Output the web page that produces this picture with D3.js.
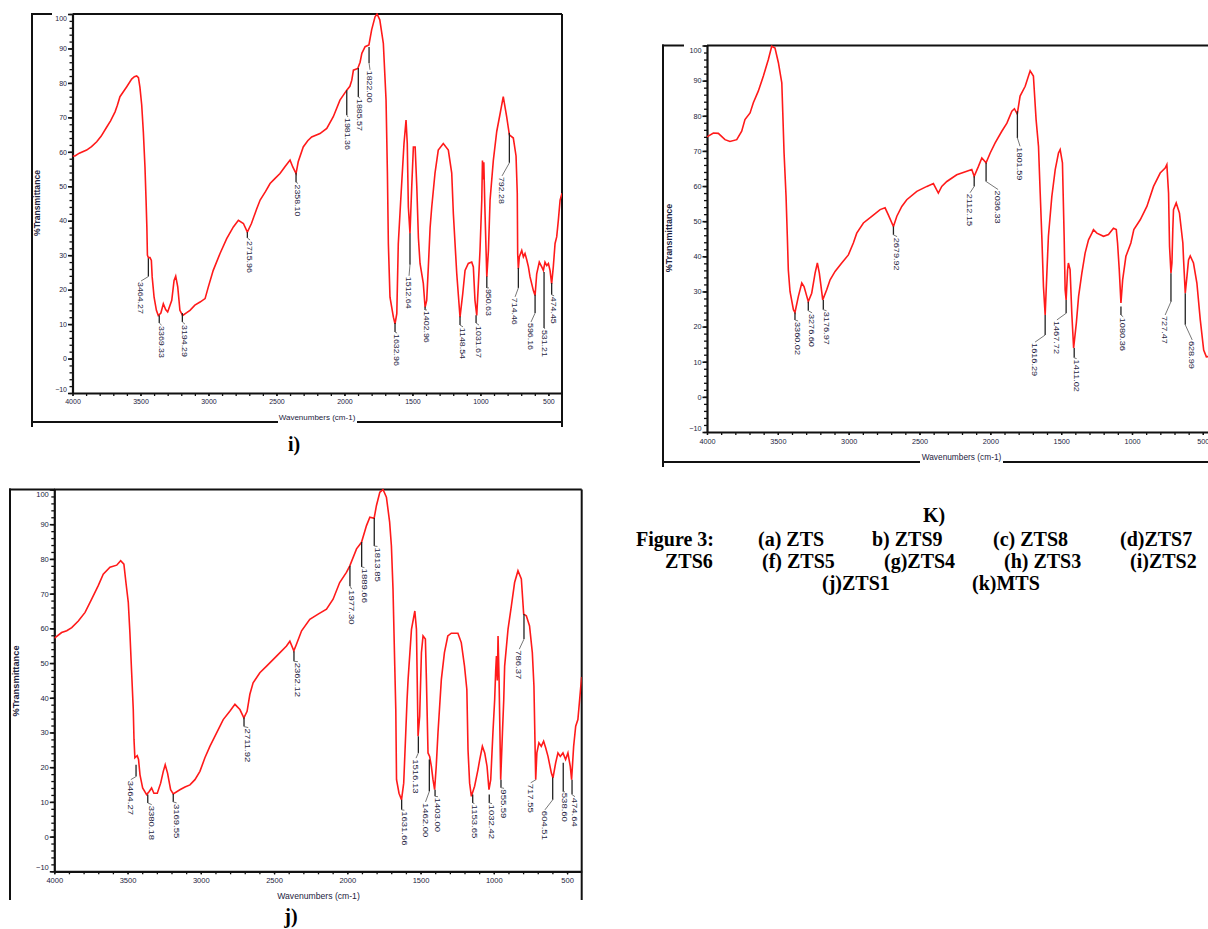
<!DOCTYPE html>
<html>
<head>
<meta charset="utf-8">
<script src="https://cdn.jsdelivr.net/npm/d3@7"></script>
<style>
  body { margin: 0; background: #fff; overflow: hidden; }
  svg text { font-family: "Liberation Sans", Arial, sans-serif; }
  .cap { font-family: "Liberation Serif", "Times New Roman", serif !important; font-weight: bold; white-space: pre; }
</style>
</head>
<body>
<svg id="fig" width="1208" height="929"></svg>
<script>
// ---- data ----
var xTicks = [4000, 3500, 3000, 2500, 2000, 1500, 1000, 500];
var yTicks = [-10, 0, 10, 20, 30, 40, 50, 60, 70, 80, 90, 100];

// (i) ZTS2 : [wavenumber, %T]
var spectrumI = [[4000,58.8],[3982,58.8],[3950,59.6],[3896,60.5],[3860,61.5],[3822,62.9],[3790,64.5],[3748,67.2],[3720,69],[3687,71.6],[3670,73.5],[3651,76],[3625,77.5],[3601,78.9],[3565,81.1],[3545,81.8],[3528,82],[3515,81.5],[3504,78.7],[3491,73.6],[3479,65.8],[3467,55.6],[3459,46],[3453,38],[3449,30],[3442,29.3],[3430,29.3],[3420,28.5],[3414,23.7],[3400,17.8],[3383,14],[3369,12.5],[3350,13.2],[3332,15.9],[3315,14.2],[3300,13.5],[3270,16.9],[3253,22.7],[3241,23.9],[3226,20.8],[3210,14],[3190,12.5],[3160,13.3],[3136,14],[3100,15.5],[3062,16.4],[3025,17.4],[3001,20.8],[2965,25.6],[2915,30.5],[2866,34.8],[2817,38.2],[2780,40.1],[2743,39.2],[2714,36.7],[2684,39.2],[2645,43.5],[2620,46],[2580,48.5],[2547,50.8],[2510,52.3],[2474,53.7],[2435,55.8],[2400,57.6],[2380,55.6],[2356,53.7],[2340,57.1],[2303,61.4],[2270,63.2],[2241,64.3],[2180,65.3],[2130,66.8],[2082,70.2],[2033,75],[1983,77.9],[1960,79],[1946,80.8],[1934,83.7],[1902,84.2],[1885,86],[1872,88.6],[1848,90.5],[1820,91],[1800,95.4],[1775,99.2],[1760,100],[1740,98.3],[1714,91.5],[1694,75],[1684,53.7],[1677,33.3],[1665,17.8],[1640,12],[1628,10.1],[1615,13],[1604,33.3],[1586,46],[1562,62.4],[1547,69.2],[1538,62.4],[1530,44],[1518,36.3],[1505,50],[1493,61.4],[1480,61.4],[1468,50],[1456,35],[1444,27.6],[1420,21.8],[1407,14.9],[1395,16.9],[1383,26.6],[1370,38],[1358,44],[1334,53.8],[1310,60.5],[1273,62.4],[1236,60.5],[1211,53.8],[1199,42],[1174,24.6],[1150,12],[1130,18.8],[1113,25.6],[1089,27.6],[1064,28],[1052,26.6],[1040,16.9],[1027,12.5],[1015,21.7],[1003,31.4],[990,46],[985,57.5],[980,52],[975,57],[968,45],[953,23.7],[941,31.4],[929,46],[905,57.5],[880,65.9],[856,70.9],[832,76],[807,70.2],[787,64.9],[758,64],[738,58.8],[729,48],[726,30.5],[721,26.1],[714,29.5],[696,31.4],[684,29.5],[672,30.5],[659,28.6],[647,26.6],[635,23.7],[611,19.8],[598,18.3],[586,24.6],[567,28],[549,26.6],[537,25.6],[525,28],[512,27],[500,27.6],[488,25.6],[476,21.7],[464,26.6],[451,33.4],[439,35.3],[427,40.1],[414,46],[400,48]];

// (k) MTS
var spectrumK = [[4000,74],[3955,75.1],[3920,75],[3873,73.2],[3838,72.7],[3790,73.2],[3755,75.6],[3732,78.9],[3696,80.8],[3673,83.7],[3638,87],[3602,91.3],[3567,96],[3543,99.8],[3520,99.3],[3496,95.1],[3472,89.4],[3465,80.8],[3456,69.4],[3442,57],[3433,45.7],[3426,36.1],[3414,30],[3390,24.8],[3379,24],[3355,28.6],[3331,32.4],[3315,31.4],[3285,27.1],[3261,29.5],[3237,35.2],[3221,38.1],[3207,35.2],[3183,27.6],[3155,30.5],[3131,33.3],[3096,35.7],[3049,38.1],[3002,40.4],[2967,43.8],[2943,46.6],[2896,49.5],[2837,51.4],[2778,53.3],[2743,53.8],[2720,51.8],[2684,48.5],[2660,51.4],[2625,54.2],[2590,56.1],[2519,58.5],[2448,59.9],[2402,60.7],[2367,58],[2343,59.9],[2307,61.3],[2237,63.2],[2166,64.2],[2131,64.7],[2114,62.8],[2084,65.6],[2060,68],[2030,66.6],[2001,69.4],[1966,72.3],[1919,75.6],[1883,77.9],[1848,81.3],[1830,82],[1810,80.5],[1790,85.6],[1754,88.4],[1719,92.8],[1696,91.3],[1677,78.9],[1660,71.3],[1648,58],[1636,45],[1625,31.4],[1613,23.3],[1601,35.2],[1590,45.7],[1566,57],[1542,64.7],[1519,69.4],[1507,70.4],[1491,66.6],[1479,45.7],[1472,30.5],[1465,27.6],[1455,36],[1449,38.1],[1437,36.2],[1425,23.8],[1412,13.9],[1393,21],[1377,28.6],[1354,35.2],[1331,40.9],[1307,44.7],[1283,46.6],[1272,47.6],[1248,46.6],[1201,45.7],[1166,46.2],[1131,48],[1111,47.6],[1102,43.8],[1090,36.2],[1078,26.7],[1066,33.3],[1043,40],[1008,43.8],[987,47.6],[942,50.4],[895,54.2],[848,59.9],[801,63.7],[766,65.1],[754,66.1],[742,58],[735,42.8],[725,35.2],[718,38.1],[712,47.6],[707,53.3],[688,55.2],[665,52.3],[641,43.8],[636,39],[624,29.5],[612,34.3],[601,39],[589,40.1],[566,38.1],[542,32.4],[518,21.9],[494,13.3],[475,11.4],[450,11.5],[420,13],[400,15]];

// (j) ZTS1
var spectrumJ = [[4000,57.3],[3995,57.3],[3950,58.8],[3915,59.3],[3881,60.2],[3836,62.1],[3790,64.6],[3745,68.4],[3700,72.3],[3666,75.6],[3620,77.6],[3574,78.2],[3547,79.5],[3525,78.5],[3511,73.2],[3495,67.5],[3484,58.8],[3472,47.2],[3461,36.6],[3456,28],[3450,22.7],[3434,23.3],[3425,22.2],[3415,17.8],[3397,14],[3370,12.1],[3352,13],[3336,14],[3320,12.5],[3297,12.5],[3274,15.4],[3256,18.8],[3243,20.7],[3227,18.3],[3206,13.5],[3188,12.3],[3143,13.5],[3108,14.3],[3074,14.9],[3040,16.4],[3006,18.8],[2972,22.7],[2938,26],[2892,29.9],[2847,33.7],[2802,36.1],[2767,38.1],[2733,36.6],[2706,34.2],[2684,36.1],[2665,41],[2643,44.3],[2597,47.2],[2551,49.1],[2483,52],[2415,54.9],[2392,56.3],[2365,53.5],[2347,55.4],[2312,59.3],[2256,62.6],[2199,64.1],[2142,65.5],[2097,68.4],[2052,73.2],[2006,76.1],[1983,78],[1937,82.9],[1903,84.8],[1869,89.6],[1846,92],[1817,91.7],[1801,95.4],[1778,99.2],[1756,100],[1733,97.8],[1711,90.6],[1699,83.8],[1688,71.3],[1676,49.1],[1669,36.6],[1664,16.4],[1647,12.5],[1630,10.6],[1615,15.4],[1601,29.9],[1592,39.5],[1585,45.3],[1562,59.7],[1539,65],[1528,59.7],[1517,28.9],[1506,34.7],[1494,53],[1483,57.8],[1467,56.9],[1460,45.3],[1449,24.1],[1438,23.1],[1426,20.2],[1415,16.4],[1404,13.5],[1393,20.2],[1381,29.9],[1358,45.3],[1337,53],[1314,57.8],[1290,58.6],[1245,58.6],[1222,55.9],[1200,49.1],[1184,42.4],[1176,25],[1165,15.4],[1153,11.6],[1131,14.5],[1108,19.3],[1096,22.2],[1078,26],[1062,24.1],[1046,20.2],[1033,13.5],[1021,16.4],[1006,29.9],[994,39.5],[987,48],[982,52],[976,45],[971,57.8],[964,45.3],[953,16.4],[941,29.9],[932,39.5],[926,49.1],[903,59.7],[880,66.5],[858,73.2],[835,76.6],[812,74.2],[796,64.1],[778,63.6],[756,60.7],[737,53],[726,43.4],[714,16.4],[706,24.1],[692,27],[676,26],[660,27.5],[646,25.6],[630,23.1],[607,18.3],[596,16.9],[578,21.2],[562,24.1],[546,23.1],[528,24.1],[510,22.2],[494,24.1],[478,20.2],[469,16.4],[455,26],[441,31.8],[426,33.7],[414,39.5],[402,45.3],[400,46]];

// peak labels: [text, wn, %T top of leader, %T end of leader, wn of label, %T top of label]
var peaksI = [
  ["3464.27",3442,29.1,23.8,3496,22.5],["3369.33",3362,12.6,10.3,3345,9.7],["3194.29",3192,13.2,10.6,3173,10.0],
  ["2715.96",2714,36.7,35.0,2694,34.4],["2358.10",2356,53.9,51.2,2341,50.8],["1981.36",1983,77.9,70.7,1974,70.1],
  ["1885.57",1898,84.3,75.9,1885,75.6],["1822.00",1819,90.4,85.8,1812,83.8],["1632.96",1628,10.3,7.7,1613,7.4],
  ["1512.64",1518,36.4,27.2,1525,24.0],["1402.96",1407,15.0,14.1,1393,14.1],["1148.54",1150,12.2,9.7,1128,9.2],
  ["1031.67",1032,12.6,10.3,1010,9.7],["950.63",953,23.8,20.5,937,20.5],["792.28",787,65.5,56.8,841,53.0],
  ["714.46",721,26.3,20.5,745,17.9],["596.16",598,18.5,13.2,628,10.6],["531.21",532,25.1,8.9,525,8.6],
  ["474.45",476,21.9,18.5,458,18.2]
];
var peaksK = [
  ["3360.02",3379,24.0,21.9,3357,21.6],["3276.60",3285,27.1,24.5,3258,23.9],["3176.97",3179,27.6,24.8,3156,24.5],
  ["2679.92",2684,48.5,46.1,2658,45.6],["2112.15",2114,62.8,59.9,2143,58.1],["2036.33",2030,66.6,61.3,1945,59.0],
  ["1801.59",1809,81.3,73.7,1790,71.3],["1616.29",1613,23.3,17.6,1684,15.6],["1467.72",1465,27.6,23.8,1530,21.9],
  ["1411.02",1408,13.9,11.1,1391,10.9],["1080.36",1078,25.7,23.3,1062,22.8],["727.47",725,35.2,27.1,766,23.3],
  ["628.99",624,29.5,20.5,575,16.2]
];
var peaksJ = [
  ["3464.27",3442,20.7,17.3,3478,16.4],["3380.18",3362,12.1,9.7,3335,9.2],["3169.55",3188,12.3,10.0,3165,9.7],
  ["2711.92",2705,34.3,31.7,2676,31.4],["2362.12",2364,53.4,50.5,2337,50.4],["1977.30",1982,78.0,72.2,1970,71.3],
  ["1889.66",1902,84.9,77.7,1883,77.5],["1813.85",1816,91.8,83.7,1794,83.6],["1631.66",1629,10.6,7.7,1610,7.6],
  ["1516.13",1515,28.9,24.1,1531,22.6],["1462.00",1440,22.2,13.0,1466,10.0],["1403.00",1401,13.5,11.6,1381,11.5],
  ["1153.65",1144,12.1,9.7,1132,9.5],["1032.42",1031,12.1,9.7,1012,9.5],["955.59",951,16.4,14.1,930,13.9],
  ["786.37",794,64.1,56.9,826,54.0],["717.55",712,16.4,16.4,748,15.5],["604.51",598,17.0,10.6,651,7.7],
  ["538.60",526,21.3,12.9,514,12.9],["474.64",466,16.4,12.1,446,11.5]
];

// caption: one array of words per line
var captionWords = [
  ["Figure 3:", "(a) ZTS", "b) ZTS9", "(c) ZTS8", "(d)ZTS7"],
  ["ZTS6", "(f) ZTS5", "(g)ZTS4", "(h) ZTS3", "(i)ZTS2"],
  ["(j)ZTS1", "(k)MTS"]
];

// ---- drawing ----
var svg = d3.select("#fig");
var ink = "#1d2340";

function drawPanel(cfg) {
  var k = cfg.k;
  var x = d3.scaleLinear().domain([4000, 400]).range([cfg.left, cfg.right]);
  var y = d3.scaleLinear().domain([-10, 100]).range([cfg.bottom, cfg.top]);
  var g = svg.append("g");

  // outer frame pieces
  cfg.frame.forEach(function(s) {
    g.append("line").attr("x1", s[0]).attr("y1", s[1]).attr("x2", s[2]).attr("y2", s[3])
      .attr("stroke", "#111").attr("stroke-width", 2);
  });
  // plot top + right border
  g.append("line").attr("x1", cfg.left).attr("x2", cfg.right).attr("y1", cfg.top).attr("y2", cfg.top)
    .attr("stroke", "#111").attr("stroke-width", 2);
  g.append("line").attr("x1", cfg.right).attr("x2", cfg.right).attr("y1", cfg.top).attr("y2", cfg.rightEnd)
    .attr("stroke", "#111").attr("stroke-width", 2);

  // minor ticks
  g.append("g").attr("transform", "translate(" + cfg.left + ",0)")
    .call(d3.axisLeft(y).tickValues(d3.range(-10, 101, 2)).tickSize(3).tickSizeOuter(0).tickFormat(""))
    .call(function(a) { a.select(".domain").remove(); a.selectAll("line").attr("stroke", "#111").attr("stroke-width", 1.3); });
  g.append("g").attr("transform", "translate(0," + cfg.bottom + ")")
    .call(d3.axisBottom(x).tickValues(d3.range(500, 4001, 100)).tickSize(3).tickSizeOuter(0).tickFormat(""))
    .call(function(a) { a.select(".domain").remove(); a.selectAll("line").attr("stroke", "#111").attr("stroke-width", 1.3); });

  // major axes
  var ya = g.append("g").attr("transform", "translate(" + cfg.left + ",0)")
    .call(d3.axisLeft(y).tickValues(yTicks).tickSize(4.5).tickSizeOuter(0).tickPadding(1).tickFormat(d3.format("d")));
  ya.select(".domain").attr("stroke", "#111").attr("stroke-width", 2.2);
  ya.selectAll("line").attr("stroke", "#111").attr("stroke-width", 1.6);
  ya.selectAll("text").attr("font-size", 7 * k).attr("fill", ink).attr("font-family", null)
    .attr("dy", function(d) { return d === 100 ? "0.95em" : (d === -10 ? "-0.25em" : "0.32em"); });

  var xa = g.append("g").attr("transform", "translate(0," + cfg.bottom + ")")
    .call(d3.axisBottom(x).tickValues(xTicks).tickSize(3).tickSizeOuter(0).tickPadding(3.5).tickFormat(d3.format("d")));
  xa.select(".domain").attr("stroke", "#111").attr("stroke-width", 2.2);
  xa.selectAll("line").attr("stroke", "#111").attr("stroke-width", 1.3);
  xa.selectAll("text").attr("font-size", 7 * k).attr("fill", ink).attr("font-family", null);

  // axis titles
  g.append("text").attr("x", cfg.xTitle[0]).attr("y", cfg.xTitle[1]).attr("text-anchor", "middle")
    .attr("font-size", 8 * k).attr("fill", ink).text("Wavenumbers (cm-1)");
  g.append("text").attr("transform", "translate(" + cfg.yTitle[0] + "," + cfg.yTitle[1] + ") rotate(-90)")
    .attr("text-anchor", "middle").attr("dy", "0.35em").attr("font-size", 8.6 * k).attr("font-weight", "bold")
    .attr("fill", ink).text("%Transmittance");

  // spectrum
  var clipId = "clip" + cfg.id;
  svg.append("clipPath").attr("id", clipId).append("rect")
    .attr("x", cfg.left).attr("y", cfg.top - 1).attr("width", cfg.right - cfg.left).attr("height", cfg.bottom - cfg.top + 1);
  var line = d3.line().x(function(d) { return x(d[0]); }).y(function(d) { return y(d[1]); });
  g.append("path").datum(cfg.spec).attr("clip-path", "url(#" + clipId + ")")
    .attr("fill", "none").attr("stroke", "#ff1a1a").attr("stroke-width", 1.6)
    .attr("stroke-linejoin", "miter").attr("d", line);

  // peak labels
  var pk = g.selectAll(".pk").data(cfg.peaks).enter().append("g").attr("class", "pk");
  pk.append("line")
    .attr("x1", function(d) { return x(d[1]); }).attr("x2", function(d) { return x(d[1]); })
    .attr("y1", function(d) { return y(d[2]); }).attr("y2", function(d) { return y(d[3]); })
    .attr("stroke", "#222").attr("stroke-width", 1.3);
  pk.append("line")
    .attr("x1", function(d) { return x(d[1]); }).attr("x2", function(d) { return x(d[4]); })
    .attr("y1", function(d) { return y(d[3]); }).attr("y2", function(d) { return y(d[5]); })
    .attr("stroke", "#777").attr("stroke-width", 1);
  pk.append("text")
    .attr("transform", function(d) { return "translate(" + x(d[4]) + "," + (y(d[5]) + 1) + ") rotate(90) scale(1,0.85)"; })
    .attr("dy", "0.35em").attr("font-size", 8.8 * k).attr("fill", ink)
    .text(function(d) { return d[0]; });
}

drawPanel({
  id: "i", k: 1, spec: spectrumI, peaks: peaksI,
  left: 72.5, right: 562, top: 14, bottom: 393, rightEnd: 427,
  frame: [[32, 13, 32, 427], [31, 14, 52, 14], [31, 422, 278, 422], [357, 422, 563, 422]],
  xTitle: [317, 419.5], yTitle: [37, 203]
});
drawPanel({
  id: "k", k: 1.04, spec: spectrumK, peaks: peaksK,
  left: 707, right: 1217, top: 45.5, bottom: 432, rightEnd: 467,
  frame: [[663, 44.5, 663, 467], [662, 45.5, 684, 45.5], [662, 462, 920, 462], [1003, 462, 1217, 462]],
  xTitle: [961.5, 460], yTitle: [669, 238]
});
drawPanel({
  id: "j", k: 1.08, spec: spectrumJ, peaks: peaksJ,
  left: 54.3, right: 581.7, top: 489.5, bottom: 871.3, rightEnd: 900,
  frame: [[10, 488.5, 10, 900], [9, 489.5, 55, 489.5]],
  xTitle: [318.5, 899], yTitle: [16, 681]
});

// panel letters and caption
svg.append("text").attr("class", "cap").attr("x", 294).attr("y", 451).attr("text-anchor", "middle")
  .attr("font-size", 20).text("i)");
svg.append("text").attr("class", "cap").attr("x", 934).attr("y", 522).attr("text-anchor", "middle")
  .attr("font-size", 20).text("K)");
svg.append("text").attr("class", "cap").attr("x", 291).attr("y", 923).attr("text-anchor", "middle")
  .attr("font-size", 20).text("j)");

var capWordX = [
  [636, 758, 872, 993, 1120],
  [665, 762, 884, 1004, 1130],
  [822, 972]
];
var capY = [546, 568, 590];
captionWords.forEach(function(words, i) {
  words.forEach(function(w, j) {
    svg.append("text").attr("class", "cap").attr("x", capWordX[i][j]).attr("y", capY[i])
      .attr("font-size", 20).text(w);
  });
});
</script>
</body>
</html>
